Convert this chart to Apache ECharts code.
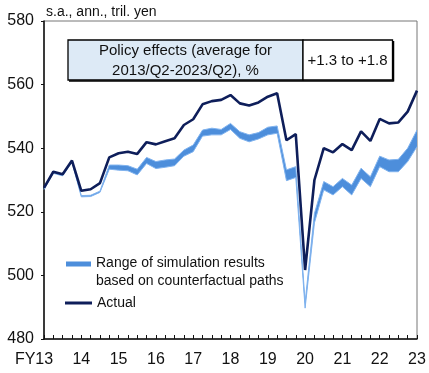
<!DOCTYPE html>
<html><head><meta charset="utf-8">
<script src="https://cdn.jsdelivr.net/npm/echarts@6/dist/echarts.min.js"></script>
<style>html,body{margin:0;padding:0;background:#fff}#c{width:429px;height:373px}</style>
</head><body><div id="c"></div>
<script>
const categories = ["FY13Q1","FY13Q2","FY13Q3","FY13Q4","FY14Q1","FY14Q2","FY14Q3","FY14Q4",
"FY15Q1","FY15Q2","FY15Q3","FY15Q4","FY16Q1","FY16Q2","FY16Q3","FY16Q4",
"FY17Q1","FY17Q2","FY17Q3","FY17Q4","FY18Q1","FY18Q2","FY18Q3","FY18Q4",
"FY19Q1","FY19Q2","FY19Q3","FY19Q4","FY20Q1","FY20Q2","FY20Q3","FY20Q4",
"FY21Q1","FY21Q2","FY21Q3","FY21Q4","FY22Q1","FY22Q2","FY22Q3","FY22Q4","FY23Q1"];
const yearLabels = ["FY13","14","15","16","17","18","19","20","21","22","23"];
const actual = [527.5,532.6,531.8,536.1,526.6,527.1,529.0,537.1,538.4,538.9,538.2,541.9,541.2,542.2,543.1,547.3,
549.1,553.8,554.8,555.2,556.7,554.1,553.4,554.4,556.2,557.3,542.5,544.4,501.7,530.0,540.0,538.7,
541.3,539.4,545.3,542.3,549.2,547.8,548.1,551.5,558.1];
const simLower = [527.0,532.1,531.3,535.6,524.7,524.8,526.1,533.4,533.1,532.9,531.6,535.2,533.6,534.0,534.5,537.5,
538.9,543.8,544.2,544.2,545.9,543.1,542.0,542.9,544.2,544.7,529.8,530.8,489.7,516.5,526.9,525.3,
527.9,525.3,530.5,527.9,534.2,532.6,532.6,535.8,540.5];
const simUpper = [527.4,532.5,531.7,536.0,525.1,525.2,526.5,534.7,534.7,534.5,533.4,537.1,535.8,536.3,536.6,539.4,
541.0,545.7,546.3,545.9,547.8,545.2,544.2,544.9,546.6,547.0,533.2,534.2,491.5,519.5,529.5,527.9,
530.5,528.4,533.7,531.0,537.5,536.3,536.5,540.0,545.7];
const yTicks = [480,500,520,540,560,580];

const bandName = "Range of simulation results\nbased on counterfactual paths";
const FONT = "'Liberation Sans', Arial, sans-serif";
const bandColor = '#4D8EDB';
const edgeColor = '#7FB2EE';
const navy = '#0E1E5A';

const chart = echarts.init(document.getElementById('c'), null, {renderer:'canvas'});
chart.setOption({
  animation:false,
  textStyle:{fontFamily:FONT},
  title:{text:'s.a., ann., tril. yen', left:46, top:5, padding:0,
    textStyle:{fontSize:14, fontWeight:'normal', color:'#111', fontFamily:FONT}},
  grid:{left:44, right:12, top:21, bottom:34, show:true, borderColor:'#777', borderWidth:1},
  legend:[
    {data:[{name:bandName, icon:'path://M0,0H25V5H0Z M24.9,20.9H25V21H24.9Z'}], left:66, top:254.5, orient:'vertical', padding:0,
     itemWidth:25, itemHeight:21, selectedMode:false,
     textStyle:{fontSize:14, color:'#111', lineHeight:17.5, fontFamily:FONT}},
    {data:[{name:'Actual', icon:'rect'}], left:65, top:296, orient:'vertical', padding:0,
     itemWidth:27, itemHeight:3, selectedMode:false,
     textStyle:{fontSize:14, color:'#111', fontFamily:FONT}}
  ],
  xAxis:{type:'category', data:categories, boundaryGap:false,
    axisLine:{lineStyle:{color:'#111', width:1.5}},
    axisTick:{show:true, inside:true, length:4, interval:0, lineStyle:{color:'#111'}},
    axisLabel:{interval:3, margin:13, fontSize:16, color:'#111', fontFamily:FONT,
      formatter:function(v, idx){
        const lab = yearLabels[idx/4];
        if (idx === 0) return '{fy|FY}{n|13}';
        return lab;
      },
      rich:{fy:{fontSize:16, color:'#111', fontFamily:FONT}, n:{fontSize:16, color:'#111', fontFamily:FONT, padding:[0,20,0,0]}}
    },
    splitLine:{show:false}},
  yAxis:{type:'value', min:yTicks[0], max:yTicks[yTicks.length-1], interval:20,
    axisLine:{show:true, lineStyle:{color:'#111', width:1.5}},
    axisTick:{show:true, inside:false, length:3, lineStyle:{color:'#111'}},
    axisLabel:{fontSize:16, color:'#111', margin:10, fontFamily:FONT},
    splitLine:{show:false}},
  series:[
    {name:'lower', type:'line', stack:'band', data:simLower, symbol:'none',
     lineStyle:{width:1, color:edgeColor}, itemStyle:{color:edgeColor}, silent:true, z:2},
    {name:bandName, type:'line', stack:'band', data:simUpper.map((u,i)=>+(u-simLower[i]).toFixed(2)), symbol:'none',
     lineStyle:{width:1, color:edgeColor}, itemStyle:{color:bandColor},
     areaStyle:{color:bandColor, opacity:1}, z:2},
    {name:'Actual', type:'line', data:actual, symbol:'none',
     lineStyle:{width:2.6, color:navy}, itemStyle:{color:navy}, z:3}
  ],
  graphic:[
    {type:'line', shape:{x1:69, y1:81, x2:393.5, y2:81}, style:{stroke:'#000', lineWidth:1.5}, z:10},
    {type:'line', shape:{x1:393.5, y1:41, x2:393.5, y2:81.5}, style:{stroke:'#000', lineWidth:1.5}, z:10},
    {type:'rect', shape:{x:68, y:40, width:235, height:40}, style:{fill:'#DDEAF6', stroke:'#000', lineWidth:1.3}, z:10},
    {type:'rect', shape:{x:303, y:40, width:89.5, height:40}, style:{fill:'#fff', stroke:'#000', lineWidth:1.3}, z:10},
    {type:'text', x:185.5, y:60.5, z:11, style:{text:'Policy effects (average for\n2013/Q2-2023/Q2), %',
      font:'15px '+FONT, fill:'#111', align:'center', verticalAlign:'middle', lineHeight:20}},
    {type:'text', x:347.5, y:60.5, z:11, style:{text:'+1.3 to +1.8',
      font:'15px '+FONT, fill:'#111', align:'center', verticalAlign:'middle'}}
  ]
});
</script></body></html>
